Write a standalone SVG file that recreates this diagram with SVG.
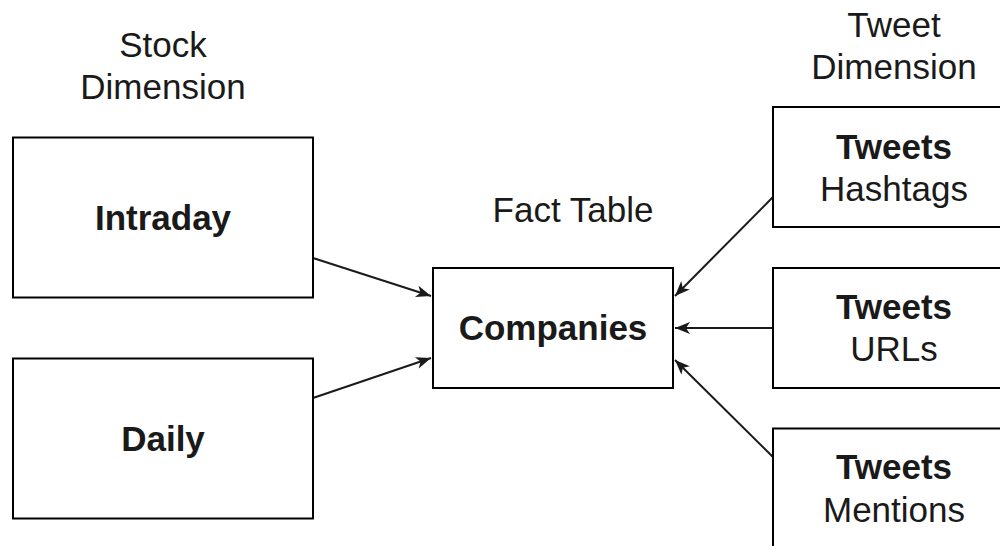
<svg xmlns="http://www.w3.org/2000/svg" width="1000" height="546" viewBox="0 0 1000 546">
<style>
.box{fill:#fff;stroke:#000;stroke-width:2}
.t{font-family:"Liberation Sans",Arial,sans-serif;font-size:35px;fill:#1a1a1a;text-anchor:middle}
.b{font-weight:bold}
.c{fill:none;stroke:#1a1a1a;stroke-width:2}
</style>
<defs>
<marker id="arr" viewBox="-16 -7 17 14" refX="0" refY="0" markerWidth="17" markerHeight="14" orient="auto" markerUnits="userSpaceOnUse">
<path d="M-15,-6 L0,0 L-15,6 L-11,0 Z" fill="#1a1a1a"/>
</marker>
</defs>
<rect width="1000" height="546" fill="#fff"/>
<g id="labels">
<text class="t" x="163" y="57">Stock</text>
<text class="t" x="163" y="99">Dimension</text>
<text class="t" x="894" y="37">Tweet</text>
<text class="t" x="894" y="79">Dimension</text>
<text class="t" x="573" y="222">Fact Table</text>
</g>
<g id="connectors">
<path class="c" d="M313,258 L431,296" marker-end="url(#arr)"/>
<path class="c" d="M313,398 L431,358" marker-end="url(#arr)"/>
<path class="c" d="M773,197 L675,296" marker-end="url(#arr)"/>
<path class="c" d="M773,328 L675,328" marker-end="url(#arr)"/>
<path class="c" d="M773,457 L675,360" marker-end="url(#arr)"/>
</g>
<g id="intraday">
<rect class="box" x="13" y="137.5" width="300" height="160"/>
<text class="t b" x="163" y="230">Intraday</text>
</g>
<g id="daily">
<rect class="box" x="13" y="358.5" width="300" height="160"/>
<text class="t b" x="163" y="451">Daily</text>
</g>
<g id="companies">
<rect class="box" x="433" y="268" width="240" height="120"/>
<text class="t b" x="553" y="340">Companies</text>
</g>
<g id="hashtags">
<rect class="box" x="773" y="107" width="240" height="120"/>
<text class="t b" x="894" y="158.5">Tweets</text>
<text class="t" x="894" y="200.5">Hashtags</text>
</g>
<g id="urls">
<rect class="box" x="773" y="268" width="240" height="120"/>
<text class="t b" x="894" y="319">Tweets</text>
<text class="t" x="894" y="361">URLs</text>
</g>
<g id="mentions">
<rect class="box" x="773" y="428.5" width="240" height="120"/>
<text class="t b" x="894" y="479">Tweets</text>
<text class="t" x="894" y="521.5">Mentions</text>
</g>
</svg>
